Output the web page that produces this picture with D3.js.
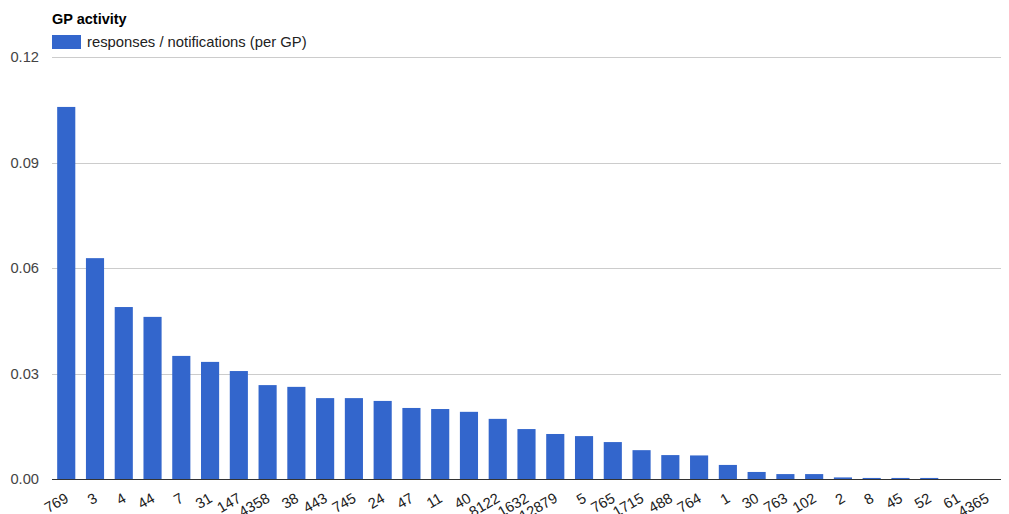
<!DOCTYPE html>
<html>
<head>
<meta charset="utf-8">
<script src="https://cdn.jsdelivr.net/npm/d3@7"></script>
<style>
  body { margin: 0; background: #fff; }
  svg { display: block; font-family: "Liberation Sans", Arial, sans-serif; }
</style>
</head>
<body>
<svg id="chart" width="1009" height="514"></svg>
<script>
const gpIds = ["769", "3", "4", "44", "7", "31", "147", "4358", "38", "443", "745", "24", "47", "11", "40",
    "8122", "1632", "12879", "5", "765", "1715", "488", "764", "1", "30", "763", "102", "2", "8", "45", "52", "61", "4365"];
const ratios = [0.1058, 0.0628, 0.0489, 0.0461, 0.0350, 0.0333, 0.0307, 0.0267, 0.0262, 0.0230, 0.0230, 0.0222,
    0.0202, 0.0199, 0.0191, 0.0171, 0.0142, 0.0128, 0.0122, 0.0105, 0.0082, 0.0068, 0.0067, 0.0040, 0.0020,
    0.0014, 0.0014, 0.00045, 0.0003, 0.0003, 0.0003, 0, 0];
const yTicks = [0, 0.03, 0.06, 0.09, 0.12];

const svg = d3.select("#chart");
const margens = { left: 52, right: 8, top: 57, bottom: 35 };
const width = 1009, height = 514;
const innerWidth = width - margens.left - margens.right;
const innerHeight = height - margens.top - margens.bottom;

const x = d3.scaleBand()
    .domain(gpIds)
    .range([0, innerWidth])
    .paddingInner(0.37)
    .paddingOuter(0.18);

const y = d3.scaleLinear()
    .domain([0, 0.12])
    .range([innerHeight, 0]);

const mainGroup = svg.append("g")
    .attr("transform", `translate(${margens.left}, ${margens.top})`);

// gridlines
mainGroup.selectAll(".grid")
    .data(yTicks.slice(1))
    .join("line")
    .attr("class", "grid")
    .attr("x1", 0)
    .attr("x2", innerWidth)
    .attr("y1", d => Math.round(y(d)) + 0.5)
    .attr("y2", d => Math.round(y(d)) + 0.5)
    .attr("stroke", "#cccccc");

// y tick labels
mainGroup.selectAll(".ylabel")
    .data(yTicks)
    .join("text")
    .attr("class", "ylabel")
    .attr("x", -13)
    .attr("y", d => y(d))
    .attr("dy", "0.36em")
    .attr("text-anchor", "end")
    .attr("fill", "#444")
    .attr("font-size", "14.7px")
    .text(d => d.toFixed(2));

// bars
mainGroup.selectAll("rect")
    .data(gpIds.map((id, i) => ({ id, value: ratios[i] })))
    .join("rect")
    .attr("fill", "#3366cc")
    .attr("x", d => x(d.id))
    .attr("y", d => y(d.value))
    .attr("width", x.bandwidth())
    .attr("height", d => y(0) - y(d.value));

// baseline
mainGroup.append("line")
    .attr("x1", 0)
    .attr("x2", innerWidth)
    .attr("y1", Math.round(y(0)) + 0.5)
    .attr("y2", Math.round(y(0)) + 0.5)
    .attr("stroke", "#333333");

// x labels, rotated
mainGroup.selectAll(".xlabel")
    .data(gpIds)
    .join("text")
    .attr("class", "xlabel")
    .attr("transform", d => `translate(${x(d) + x.bandwidth() / 2 - 2}, ${innerHeight + 13}) rotate(-30)`)
    .attr("text-anchor", "end")
    .attr("dy", "0.71em")
    .attr("fill", "#222")
    .attr("font-size", "14.7px")
    .text(d => d);

// title
svg.append("text")
    .attr("x", 52)
    .attr("y", 24)
    .attr("font-size", "14.5px")
    .attr("font-weight", "bold")
    .attr("fill", "#000")
    .text("GP activity");

// legend
svg.append("rect")
    .attr("x", 52)
    .attr("y", 35)
    .attr("width", 29)
    .attr("height", 14)
    .attr("fill", "#3366cc");

svg.append("text")
    .attr("x", 87)
    .attr("y", 47)
    .attr("font-size", "14.8px")
    .attr("fill", "#222")
    .text("responses / notifications (per GP)");
</script>
</body>
</html>
